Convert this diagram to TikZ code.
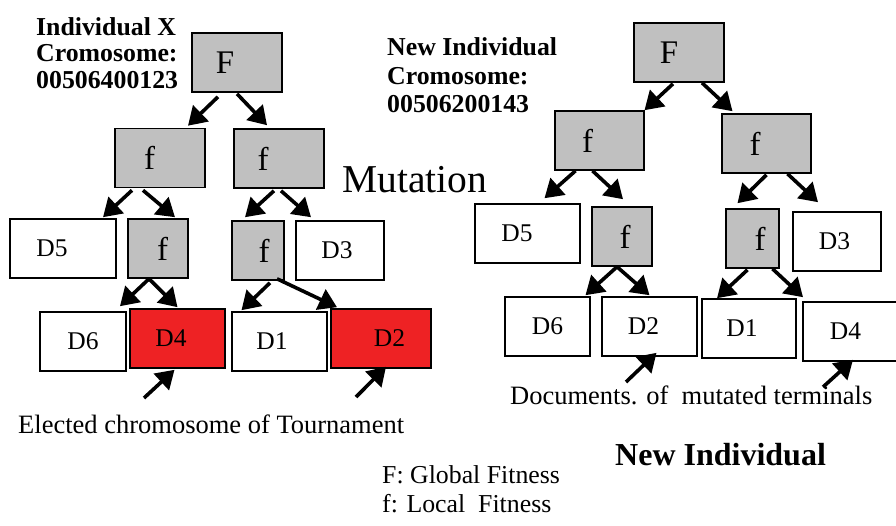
\documentclass[tikz,border=0pt]{standalone}
\usepackage{fontspec}
\setmainfont{Liberation Serif}
\usepackage{xcolor}
\usetikzlibrary{arrows.meta}
\definecolor{boxgray}{HTML}{C0C0C0}
\definecolor{hitred}{HTML}{EE2224}

\begin{document}
\begin{tikzpicture}[x=1pt,y=-1pt,
  box/.style={draw,line width=1.6pt,inner sep=0pt,minimum height=59pt,
    font=\fontsize{25.5}{25.5}\selectfont},
  fitbox/.style={box,fill=boxgray,minimum width=#1,font=\fontsize{33}{33}\selectfont},
  fitbox/.default=90pt,
  doc/.style={box,fill=white,minimum width=#1},
  hit/.style={box,fill=hitred,minimum width=#1},
  tl/.style={execute at end node={\hspace*{#1}}},
  tr/.style={execute at begin node={\hspace*{#1}}},
  arr/.style={line width=3.6pt,-{Triangle[length=18pt,width=22pt]}},
  lbl/.style={anchor=base west,inner sep=0pt,font=\fontsize{26.5}{26.5}\selectfont}]
\useasboundingbox (0,0) rectangle (896,525);
\clip (0,0) rectangle (896,525);
% individual X
\node[fitbox,tl=24pt] (F1) at (237,62.5) {F};
\node[fitbox,tl=21pt] (fa) at (160,158) {f};
\node[fitbox,tl=32pt] (fb) at (279,158.5) {f};
\node[doc=106pt,tl=22pt] (D5a) at (63,248.5) {D5};
\node[fitbox=60pt,tr=9pt] (fc) at (158,248.5) {f};
\node[fitbox=52pt,tr=12pt] (fd) at (258,250.5) {f};
\node[doc=88pt,tl=6pt] (D3a) at (340,250.5) {D3};
\node[doc=86pt] (D6a) at (83,341.5) {D6};
\node[hit=95pt,tl=13pt] (D4a) at (177.5,338.5) {D4};
\node[doc=95pt,tl=15pt] (D1a) at (279.5,341.5) {D1};
\node[hit=100pt,tr=17pt] (D2a) at (381,338.5) {D2};
\draw[arr] ([shift={(-19,4)}]F1.south) -- ([shift={(28,-2)}]fa.north);
\draw[arr] ([shift={(0,1)}]F1.south) -- ([shift={(-12,-3)}]fb.north);
\draw[arr] ([shift={(-28,2)}]fa.south) -- ([shift={(40,-1)}]D5a.north);
\draw[arr] ([shift={(-17,2)}]fa.south) -- ([shift={(17,-1)}]fc.north);
\draw[arr] ([shift={(-5,2)}]fb.south) -- ([shift={(-13,-3)}]fd.north);
\draw[arr] ([shift={(2,2)}]fb.south) -- ([shift={(-29,-3)}]D3a.north);
\draw[arr] ([shift={(-9,0)}]fc.south) -- ([shift={(37,-5)}]D6a.north);
\draw[arr] ([shift={(-9,0)}]fc.south) -- ([shift={(0,-1)}]D4a.north);
\draw[arr] ([shift={(12,2)}]fd.south) -- ([shift={(-38,-1)}]D1a.north);
\draw[arr] ([shift={(19,-2)}]fd.south) -- ([shift={(-44,-1)}]D2a.north);
\coordinate (pa) at (144,398);
\coordinate (pb) at (356,397);
\draw[arr] (pa) -- ([shift={(-3,1)}]D4a.south);
\draw[arr] (pb) -- ([shift={(5,-2)}]D2a.south);
\node[anchor=north west,inner sep=0pt,align=left,font=\fontsize{25.8}{26.7}\selectfont\bfseries]
  (labX) at (36,17) {Individual X\\Cromosome:\\00506400123};
\node[lbl,font=\fontsize{39.5}{39.5}\selectfont] (mut) at (342,192) {Mutation};
\node[lbl] (elect) at (18,433) {Elected chromosome of Tournament};
% new individual
\node[fitbox,tl=20pt] (F2) at (679,52.5) {F};
\node[fitbox=89pt,tl=24pt] (fe) at (599.5,140.5) {f};
\node[fitbox=89pt,tl=23pt] (ff) at (766.5,143.5) {f};
\node[doc=105pt,tl=21pt] (D5b) at (527.5,233.5) {D5};
\node[fitbox=60pt,tr=6pt] (fg) at (622,236.5) {f};
\node[fitbox=53pt,tr=15pt] (fh) at (752.5,238.5) {f};
\node[doc=88pt,tl=5pt] (D3b) at (837,241.5) {D3};
\node[doc=85pt] (D6b) at (547.5,326.5) {D6};
\node[doc=95pt,tl=12pt] (D2b) at (649.5,326.5) {D2};
\node[doc=94pt,tl=14pt] (D1b) at (749,328.5) {D1};
\node[doc=102pt,tl=17pt] (D4b) at (854,331.5) {D4};
\draw[arr] ([shift={(-6,1)}]F2.south) -- ([shift={(45,0)}]fe.north);
\draw[arr] ([shift={(23,0)}]F2.south) -- ([shift={(-34,-2)}]ff.north);
\draw[arr] ([shift={(-24,0)}]fe.south) -- ([shift={(17,-5)}]D5b.north);
\draw[arr] ([shift={(-7,0)}]fe.south) -- ([shift={(1,-7)}]fg.north);
\draw[arr] ([shift={(0,1)}]ff.south) -- ([shift={(-15,-5)}]fh.north);
\draw[arr] ([shift={(21,0)}]ff.south) -- ([shift={(-19,-9)}]D3b.north);
\draw[arr] ([shift={(-5,0)}]fg.south) -- ([shift={(38,-1)}]D6b.north);
\draw[arr] ([shift={(-5,0)}]fg.south) -- ([shift={(0,-1)}]D2b.north);
\draw[arr] ([shift={(-5,1)}]fh.south) -- ([shift={(-32,0)}]D1b.north);
\draw[arr] ([shift={(20,0)}]fh.south) -- ([shift={(-51,-4)}]D4b.north);
\coordinate (pc) at (626,382);
\coordinate (pd) at (823,387);
\draw[arr] (pc) -- ([shift={(7,-4)}]D2b.south);
\draw[arr] (pd) -- ([shift={(-1,-2)}]D4b.south);
\node[anchor=north west,inner sep=0pt,align=left,font=\fontsize{25.8}{28.5}\selectfont\bfseries]
  (labN) at (387,37.5) {New Individual\\Cromosome:\\00506200143};
\node[lbl] (docs) at (510,404) {Documents. of~ mutated terminals};
\node[lbl,font=\fontsize{32}{32}\selectfont\bfseries] (newind) at (615,465) {New Individual};
% legend
\node[lbl,font=\fontsize{25.8}{25.8}\selectfont] (legF) at (382,483) {F: Global Fitness};
\node[lbl,font=\fontsize{25.8}{25.8}\selectfont] (legf) at (382,512) {f: Local~ Fitness};
\end{tikzpicture}
\end{document}
